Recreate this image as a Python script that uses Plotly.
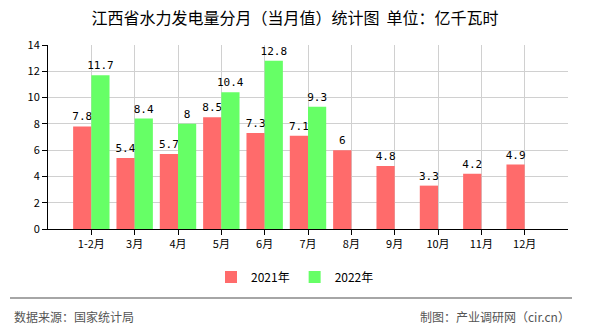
import plotly.graph_objects as go

categories = ["1-2月", "3月", "4月", "5月", "6月", "7月", "8月", "9月", "10月", "11月", "12月"]
values_2021 = [7.8, 5.4, 5.7, 8.5, 7.3, 7.1, 6, 4.8, 3.3, 4.2, 4.9]
values_2022 = [11.7, 8.4, 8, 10.4, 12.8, 9.3]
series_names = ["2021年", "2022年"]
y_ticks = [0, 2, 4, 6, 8, 10, 12, 14]

W, H = 590, 330
L, R, T, B = 48, 568, 45, 229
FONT = "Noto Sans CJK SC, sans-serif"

xpos = list(range(1, len(categories) + 1))

fig = go.Figure()
fig.add_trace(go.Bar(
    x=xpos, y=values_2021, name=series_names[0],
    marker=dict(color="#FF6B6B", line=dict(width=0)),
    text=[f"{v:g}" for v in values_2021], textposition="outside",
    textfont=dict(size=11, color="#000", family="DejaVu Sans Mono"),
    constraintext="none", cliponaxis=False,
))
fig.add_trace(go.Bar(
    x=xpos[:len(values_2022)], y=values_2022, name=series_names[1],
    marker=dict(color="#66FF66", line=dict(width=0)),
    text=[f"{v:g}" for v in values_2022], textposition="outside",
    textfont=dict(size=11, color="#000", family="DejaVu Sans Mono"),
    constraintext="none", cliponaxis=False,
))

def px_x(p):
    return (p - L) / (R - L)

def px_y(p):
    return (B - p) / (B - T)

fig.update_layout(
    width=W, height=H,
    margin=dict(l=L, r=W - R, t=T, b=H - B),
    paper_bgcolor="white", plot_bgcolor="white",
    barmode="group", bargap=0.16, bargroupgap=0,
    font=dict(family=FONT, size=11, color="#000"),
    title=dict(text="江西省水力发电量分月（当月值）统计图  单位：亿千瓦时",
               x=0.5, xanchor="center", y=1 - 18 / H, yanchor="middle",
               font=dict(size=16, color="#000", family=FONT)),
    xaxis=dict(
        range=[0, 12], tickmode="array", tickvals=xpos, ticktext=categories,
        showgrid=True, gridcolor="#D0D0D0", gridwidth=1,
        showline=True, linecolor="#000", linewidth=1,
        ticks="outside", ticklen=5, tickcolor="#000",
        tickfont=dict(size=11, family=FONT), zeroline=False,
    ),
    yaxis=dict(
        range=[0, 14], tickvals=y_ticks,
        showgrid=True, gridcolor="#D0D0D0", gridwidth=1,
        showline=True, linecolor="#000", linewidth=1,
        ticks="outside", ticklen=5, tickcolor="#000",
        tickfont=dict(size=11, family=FONT), zeroline=False,
    ),
    legend=dict(
        orientation="h", x=0.5, xanchor="center", xref="container",
        y=1 - 277 / H, yanchor="middle", yref="container",
        font=dict(size=12, family=FONT), itemwidth=30,
        traceorder="normal",
    ),
    shapes=[dict(type="line", xref="paper", yref="paper",
                 x0=px_x(10), x1=px_x(572), y0=px_y(298), y1=px_y(298),
                 line=dict(color="#888", width=1.5))],
    annotations=[
        dict(text="数据来源：国家统计局", xref="paper", yref="paper",
             x=px_x(12), y=px_y(316), xanchor="left", yanchor="middle",
             showarrow=False, font=dict(size=12, color="#555", family=FONT)),
        dict(text="制图：产业调研网（cir.cn）", xref="paper", yref="paper",
             x=px_x(572), y=px_y(316), xanchor="right", yanchor="middle",
             showarrow=False, font=dict(size=12, color="#555", family=FONT)),
    ],
)

fig.write_html("out.html")
